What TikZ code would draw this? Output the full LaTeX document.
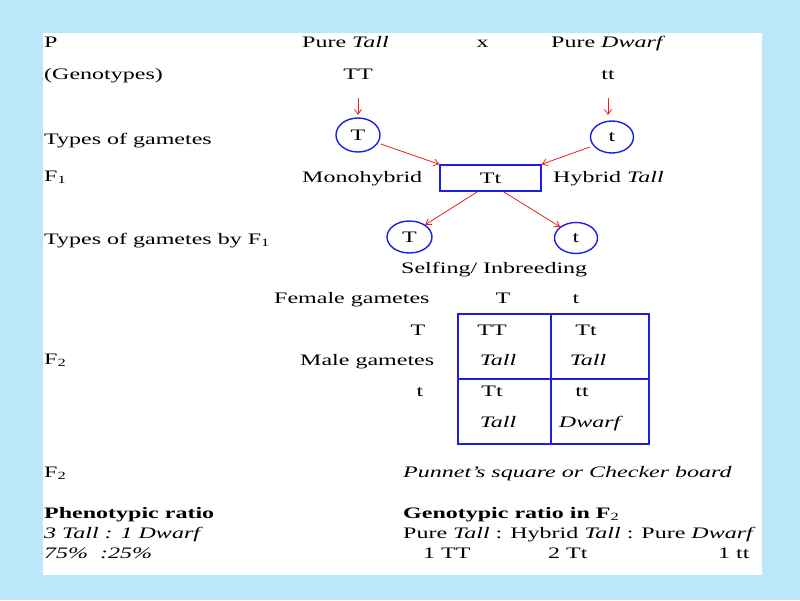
\documentclass[tikz,border=0pt]{standalone}
\usepackage{fontspec}
\setmainfont{Liberation Serif}[FakeStretch=1.5]
\usetikzlibrary{shapes.geometric,arrows.meta,calc}
\definecolor{bgblue}{RGB}{188,230,250}
\definecolor{lnblue}{RGB}{30,30,225}
\definecolor{arred}{RGB}{240,30,30}
\newcommand\fs{\fontsize{16}{19}\selectfont}
\newcommand\sbs[1]{\raisebox{-0.4ex}{\fontsize{11}{11}\selectfont #1}}
\tikzset{
  txt/.style={inner sep=0pt, anchor=base west, font=\fs},
  ctx/.style={inner sep=0pt, anchor=base, font=\fs},
  gam/.style={draw=lnblue, line width=1.4pt, ellipse, inner sep=0pt, font=\fs},
  redarrow/.style={draw=arred, line width=0.8pt, -{Straight Barb[length=5pt,width=7pt]}},
  grid/.style={draw=lnblue, line width=1.4pt}
}
\begin{document}
\begin{tikzpicture}[x=1pt,y=-1pt]
\useasboundingbox (0,0) rectangle (800,600);
\fill[bgblue] (0,0) rectangle (800,600);
\fill[white] (43,33) rectangle (762,575);
% row P
\node[txt] (p) at (44,47) {P};
\node[txt] (pt) at (302,47) {Pure \textit{Tall}};
\node[ctx] (x) at (482.5,47) {x};
\node[txt] (pd) at (551,47) {Pure \textit{Dwarf}};
% genotypes
\node[txt] (gen) at (44,79) {(Genotypes)};
\node[ctx] (TT) at (358,79) {TT};
\node[ctx] (tt) at (608,79) {tt};
\coordinate (a1s) at (358,98);
\coordinate (a1e) at (358,115);
\coordinate (a2s) at (608,98);
\coordinate (a2e) at (608,115);
\draw[redarrow] (a1s) -- (a1e);
\draw[redarrow] (a2s) -- (a2e);
% gametes
\node[txt] (tog) at (44,144) {Types of gametes};
\node[gam, minimum width=44pt, minimum height=34pt] (cT) at (358,135) {T};
\node[gam, minimum width=43pt, minimum height=32pt] (ct) at (612,137) {t};
% F1
\node[txt] (f1) at (44,181) {F\sbs{1}};
\node[txt] (mono) at (302,182) {Monohybrid};
\node[draw=lnblue, line width=1.4pt, minimum width=101pt, minimum height=26pt, inner sep=0pt, font=\fs] (box) at (490.5,178) {Tt};
\node[txt] (hyb) at (553,182) {Hybrid \textit{Tall}};
\draw[redarrow, shorten <=3pt] (cT.-22) -- (box.north west);
\draw[redarrow, shorten <=3pt] (ct.205) -- (box.north east);
% gametes by F1
\node[txt] (togf) at (44,244) {Types of gametes by F\sbs{1}};
\node[gam, minimum width=45pt, minimum height=32pt] (cT2) at (409.5,237) {T};
\node[gam, minimum width=43pt, minimum height=31pt] (ct2) at (576,238) {t};
\draw[redarrow] ($(box.south)+(-13,0)$) -- (cT2.38);
\draw[redarrow] ($(box.south)+(13,0)$) -- (ct2.145);
\node[txt] (self) at (401,273) {Selfing/ Inbreeding};
% Punnett
\node[txt] (fem) at (274,303) {Female gametes};
\node[ctx] (fT) at (503,303) {T};
\node[ctx] (ft) at (576,303) {t};
\node[ctx] (mT) at (418,335) {T};
\node[txt] (male) at (300,365) {Male gametes};
\node[ctx] (mt) at (420,396) {t};
\node[txt] (f2a) at (44,364) {F\sbs{2}};
\draw[grid] (458,314) rectangle (649,444);
\draw[grid] (551,314) -- (551,444);
\draw[grid] (458,379) -- (649,379);
\node[ctx] (c11) at (492,335) {TT};
\node[ctx] (c12) at (586,335) {Tt};
\node[ctx] (c11b) at (498,365) {\textit{Tall}};
\node[ctx] (c12b) at (588,365) {\textit{Tall}};
\node[ctx] (c21) at (492,396) {Tt};
\node[ctx] (c22) at (582,396) {tt};
\node[ctx] (c21b) at (498,427) {\textit{Tall}};
\node[ctx] (c22b) at (591,427) {\textit{Dwarf}};
% bottom
\node[txt] (f2b) at (44,477) {F\sbs{2}};
\node[txt] (pun) at (403,477) {\textit{Punnet's square or Checker board}};
\node[txt] (phr) at (44,518) {\textbf{Phenotypic ratio}};
\node[txt] (ger) at (403,518) {\textbf{Genotypic ratio in F}\sbs{2}};
\node[txt] (ph1) at (44,538) {\textit{3 Tall : 1 Dwarf}};
\node[txt] (ph2) at (44,558) {\textit{75\%\ \ :25\%}};
\node[txt] (ge1) at (403,538) {Pure \textit{Tall} : Hybrid \textit{Tall} : Pure \textit{Dwarf}};
\node[txt] (ge2) at (423,558) {1 TT};
\node[txt] (ge3) at (548,558) {2 Tt};
\node[txt] (ge4) at (718,558) {1 tt};
\end{tikzpicture}
\end{document}
